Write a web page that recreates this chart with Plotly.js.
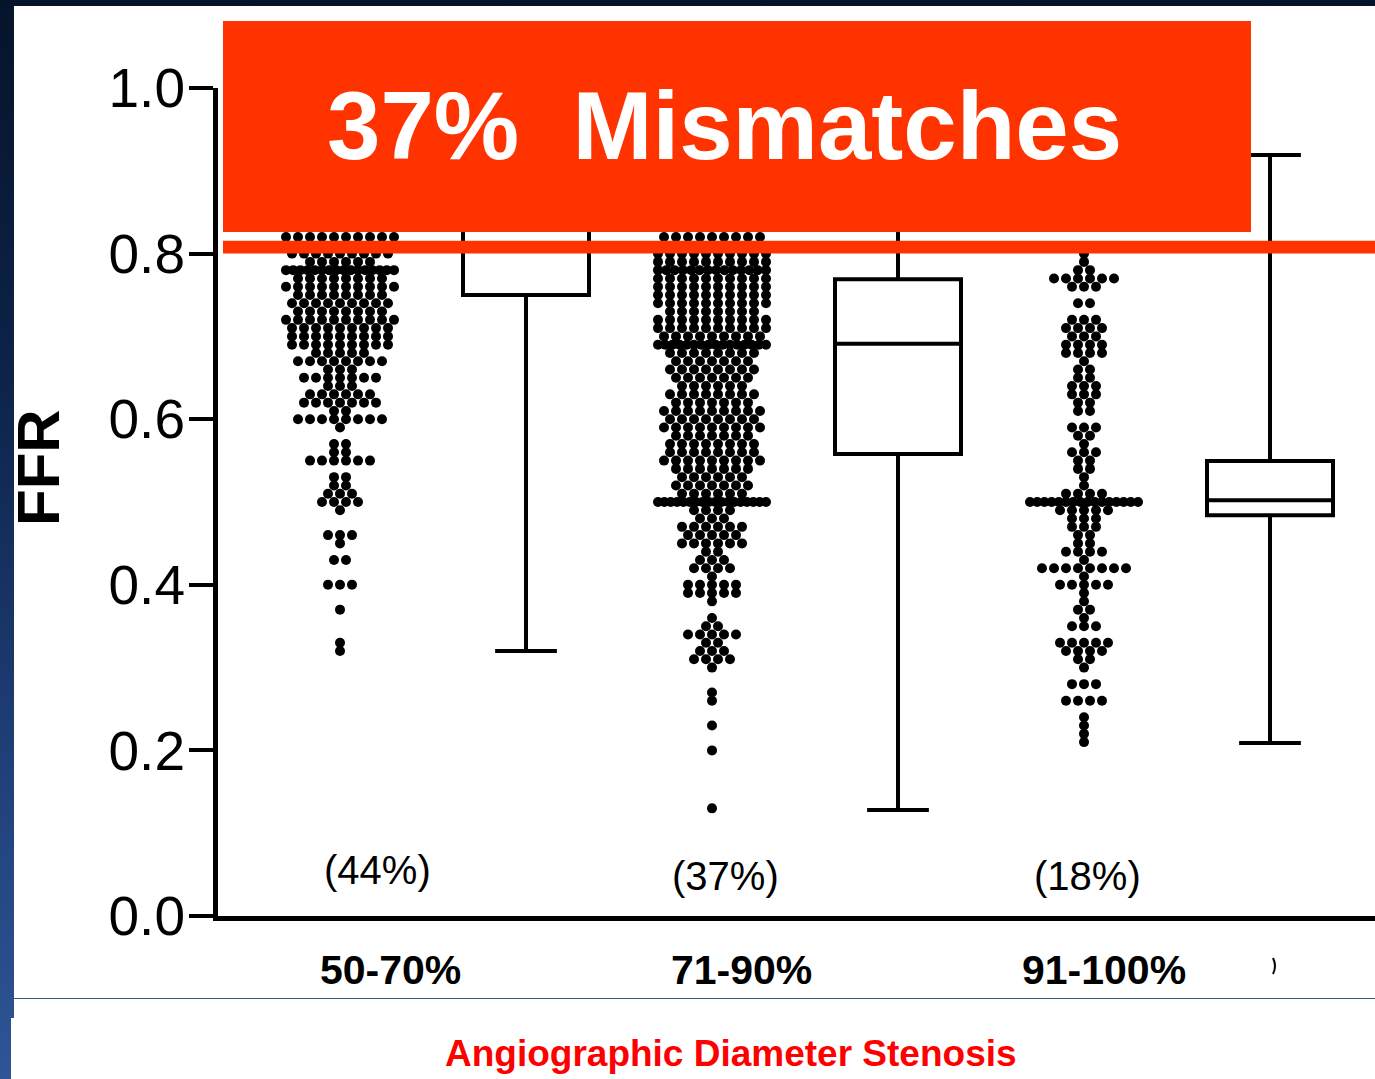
<!DOCTYPE html>
<html><head><meta charset="utf-8">
<script src="https://cdn.plot.ly/plotly-3.0.1.min.js"></script>
<style>
html,body{margin:0;padding:0;width:1375px;height:1079px;overflow:hidden;}
body{background:linear-gradient(to bottom,#06142b 0%,#0d2349 35%,#1f3f78 70%,#2f5597 100%);position:relative;}
#panel{position:absolute;left:14px;top:6px;width:1361px;height:1012px;background:#fff;}
#panel2{position:absolute;left:11px;top:1018px;width:1364px;height:61px;background:#fff;}
#rule{position:absolute;left:14px;top:998px;width:1361px;height:1px;background:#3a5a95;}
#chart{position:absolute;left:0;top:0;width:1375px;height:1079px;}
</style></head><body>
<div id="panel"></div><div id="panel2"></div><div id="rule"></div><div id="chart"></div>
<script>
// ---------------- data ----------------
const groupLabels = ['50-70%', '71-90%', '91-100%'];
const pctLabels = ['(44%)', '(37%)', '(18%)'];

const g1Vals   = [0.32,0.33,0.37,0.40,0.43,0.45,0.46,0.49,0.50,0.51,0.52,0.53,0.55,0.56,0.57,0.59,0.60,0.61,0.62,0.63,0.64,0.65,0.66,0.67,0.68,0.69,0.70,0.71,0.72,0.73,0.74,0.75,0.76,0.77,0.78,0.79,0.80,0.81,0.82];
const g1Counts = [1,   1,   1,   3,   2,   1,   3,   1,   4,   3,   2,   2,   6,   2,   2,   1,   8,   2,   7,   6,   3,   7,   3,   8,   5,   9,   9,   9,   10,  8,   9,   8,   10,  8,   16,  6,   9,   10,  10];

const g2Vals   = [0.13,0.20,0.23,0.26,0.27,0.30,0.31,0.32,0.33,0.34,0.35,0.36,0.38,0.39,0.40,0.41,0.42,0.43,0.44,0.45,0.46,0.47,0.48,0.49,0.50,0.51,0.52,0.53,0.54,0.55,0.56,0.57,0.58,0.59,0.60,0.61,0.62,0.63,0.64,0.65,0.66,0.67,0.68,0.69,0.70,0.71,0.72,0.73,0.74,0.75,0.76,0.77,0.78,0.79,0.80,0.81,0.82];
const g2Counts = [1,   1,   1,   1,   1,   1,   4,   3,   2,   5,   2,   1,   1,   5,   5,   1,   4,   3,   2,   6,   5,   6,   3,   4,   18,  6,   7,   6,   7,   9,   8,   8,   7,   9,   8,   9,   7,   8,   6,   7,   8,   7,   8,   16,  9,   10,  10,  8,   10,  10,  10,  10,  14,  10,  10,  9,   9];

const g3Vals   = [0.21,0.22,0.23,0.24,0.26,0.28,0.30,0.31,0.32,0.33,0.35,0.36,0.37,0.38,0.39,0.40,0.41,0.42,0.43,0.44,0.45,0.46,0.47,0.48,0.49,0.50,0.51,0.52,0.53,0.54,0.55,0.56,0.57,0.58,0.59,0.61,0.62,0.63,0.64,0.65,0.66,0.67,0.68,0.69,0.70,0.71,0.72,0.74,0.76,0.77,0.78,0.79,0.80];
const g3Counts = [1,   1,   1,   1,   4,   3,   1,   2,   4,   5,   3,   1,   2,   1,   1,   5,   1,   8,   1,   4,   2,   2,   3,   3,   5,   16,  4,   1,   1,   2,   2,   3,   1,   2,   3,   2,   2,   3,   3,   2,   2,   1,   4,   4,   3,   4,   3,   2,   3,   6,   2,   1,   1];

// box summaries (FFR)
const boxLower  = [0.32, 0.128, 0.209];
const boxQ1     = [0.75, 0.558, 0.484];
const boxMedian = [0.84, 0.691, 0.502];
const boxQ3     = [0.89, 0.769, 0.5495];
const boxUpper  = [0.99, 0.95, 0.919];

const mismatchText = '37%\u00a0 Mismatches';
const threshold = 0.80;

// ---------------- geometry ----------------
const W = 1375, H = 1079;
const PL = 218, PR = 1375, PT = 88, PB = 916;   // plot area in px
const U = 186;          // px per x unit
const X0 = 340;         // px of first dot strip (x=0)
const DOTSTEP = 12, ROWSPAN = 108, MAXROW = 10;
const px2x = p => (p - X0) / U;
const pxX = p => (p - PL) / (PR - PL);
const pxY = p => (PB - p) / (PB - PT);

function swarm(vals, counts, center) {
  const xs = [], ys = [];
  vals.forEach((v, k) => {
    const n = counts[k];
    const step = n > MAXROW ? ROWSPAN / (n - 1) : DOTSTEP;
    for (let i = 0; i < n; i++) { xs.push(center + (i - (n - 1) / 2) * step / U); ys.push(v); }
  });
  return { xs, ys };
}

const groups = [[g1Vals, g1Counts], [g2Vals, g2Counts], [g3Vals, g3Counts]];
const traces = [];
groups.forEach((g, i) => {
  const s = swarm(g[0], g[1], 2 * i);
  traces.push({ type: 'scatter', mode: 'markers', x: s.xs, y: s.ys, name: groupLabels[i],
    marker: { size: 10, color: '#000' }, hoverinfo: 'y', showlegend: false });
});
traces.push({
  type: 'box', x: [1, 3, 5], q1: boxQ1, median: boxMedian, q3: boxQ3,
  lowerfence: boxLower, upperfence: boxUpper, boxpoints: false,
  width: 126 / U, whiskerwidth: 0.49, fillcolor: '#ffffff',
  line: { color: '#000', width: 4 }, showlegend: false
});

const tickFont = { family: 'Liberation Sans, Arial, sans-serif', size: 55, color: '#000' };
const annFont = (size, bold, color) => ({ family: 'Liberation Sans, Arial, sans-serif', size: size, color: color || '#000', weight: bold ? 'bold' : 'normal' });

const annotations = [];
const labelPx = [390, 741, 1104];
groupLabels.forEach((t, i) => annotations.push({ text: '<b>' + t + '</b>', xref: 'paper', yref: 'paper',
  x: pxX(labelPx[i]), y: pxY(970), xanchor: 'center', yanchor: 'middle', showarrow: false, font: annFont(41, true) }));
const pctPx = [[377, 870], [725, 876], [1087, 876]];
pctLabels.forEach((t, i) => annotations.push({ text: t, xref: 'paper', yref: 'paper',
  x: pxX(pctPx[i][0]), y: pxY(pctPx[i][1]), xanchor: 'center', yanchor: 'middle', showarrow: false, font: annFont(40, false) }));
annotations.push({ text: '<b>FFR</b>', xref: 'paper', yref: 'paper', x: pxX(38), y: pxY(468), textangle: -90,
  xanchor: 'center', yanchor: 'middle', showarrow: false, font: annFont(60, true) });
annotations.push({ text: '<b>Angiographic Diameter Stenosis</b>', xref: 'paper', yref: 'paper', x: pxX(731), y: pxY(1053),
  xanchor: 'center', yanchor: 'middle', showarrow: false, font: annFont(37, true, '#ff0000') });
annotations.push({ text: '<b>' + mismatchText + '</b>', xref: 'paper', yref: 'paper', x: pxX(724), y: pxY(126),
  xanchor: 'center', yanchor: 'middle', showarrow: false, font: annFont(96, true, '#ffffff') });

const shapes = [
  { type: 'rect', layer: 'above', xref: 'paper', yref: 'paper', x0: pxX(223), x1: pxX(1251), y0: pxY(232), y1: pxY(21),
    fillcolor: '#ff3300', line: { width: 0 } },
  { type: 'rect', layer: 'above', xref: 'paper', yref: 'y', x0: pxX(223), x1: 1.01, y0: threshold, y1: threshold + 0.0155,
    fillcolor: '#ff3300', line: { width: 0 } },
  { type: 'path', layer: 'above', xref: 'paper', yref: 'paper',
    path: 'M' + pxX(1273) + ',' + pxY(958) + ' Q' + pxX(1277) + ',' + pxY(966) + ' ' + pxX(1273) + ',' + pxY(974),
    line: { color: '#000', width: 2 } }
];

const layout = {
  width: W, height: H,
  margin: { l: PL, r: W - PR, t: PT, b: H - PB, pad: 0 },
  paper_bgcolor: 'rgba(0,0,0,0)', plot_bgcolor: 'rgba(0,0,0,0)',
  showlegend: false,
  xaxis: { range: [px2x(PL), px2x(PR)], showgrid: false, zeroline: false, showticklabels: false, ticks: '',
    showline: true, linecolor: '#000', linewidth: 5, fixedrange: true },
  yaxis: { range: [0, 1], tickvals: [0, 0.2, 0.4, 0.6, 0.8, 1.0], ticktext: ['0.0', '0.2', '0.4', '0.6', '0.8', '1.0'],
    ticks: 'outside', ticklen: 24, tickwidth: 4, tickcolor: '#000', tickfont: tickFont, ticklabelstandoff: -7,
    showgrid: false, zeroline: false, showline: true, linecolor: '#000', linewidth: 5, fixedrange: true },
  shapes: shapes, annotations: annotations
};

Plotly.newPlot('chart', traces, layout, { displayModeBar: false, staticPlot: true });
</script>
</body></html>
